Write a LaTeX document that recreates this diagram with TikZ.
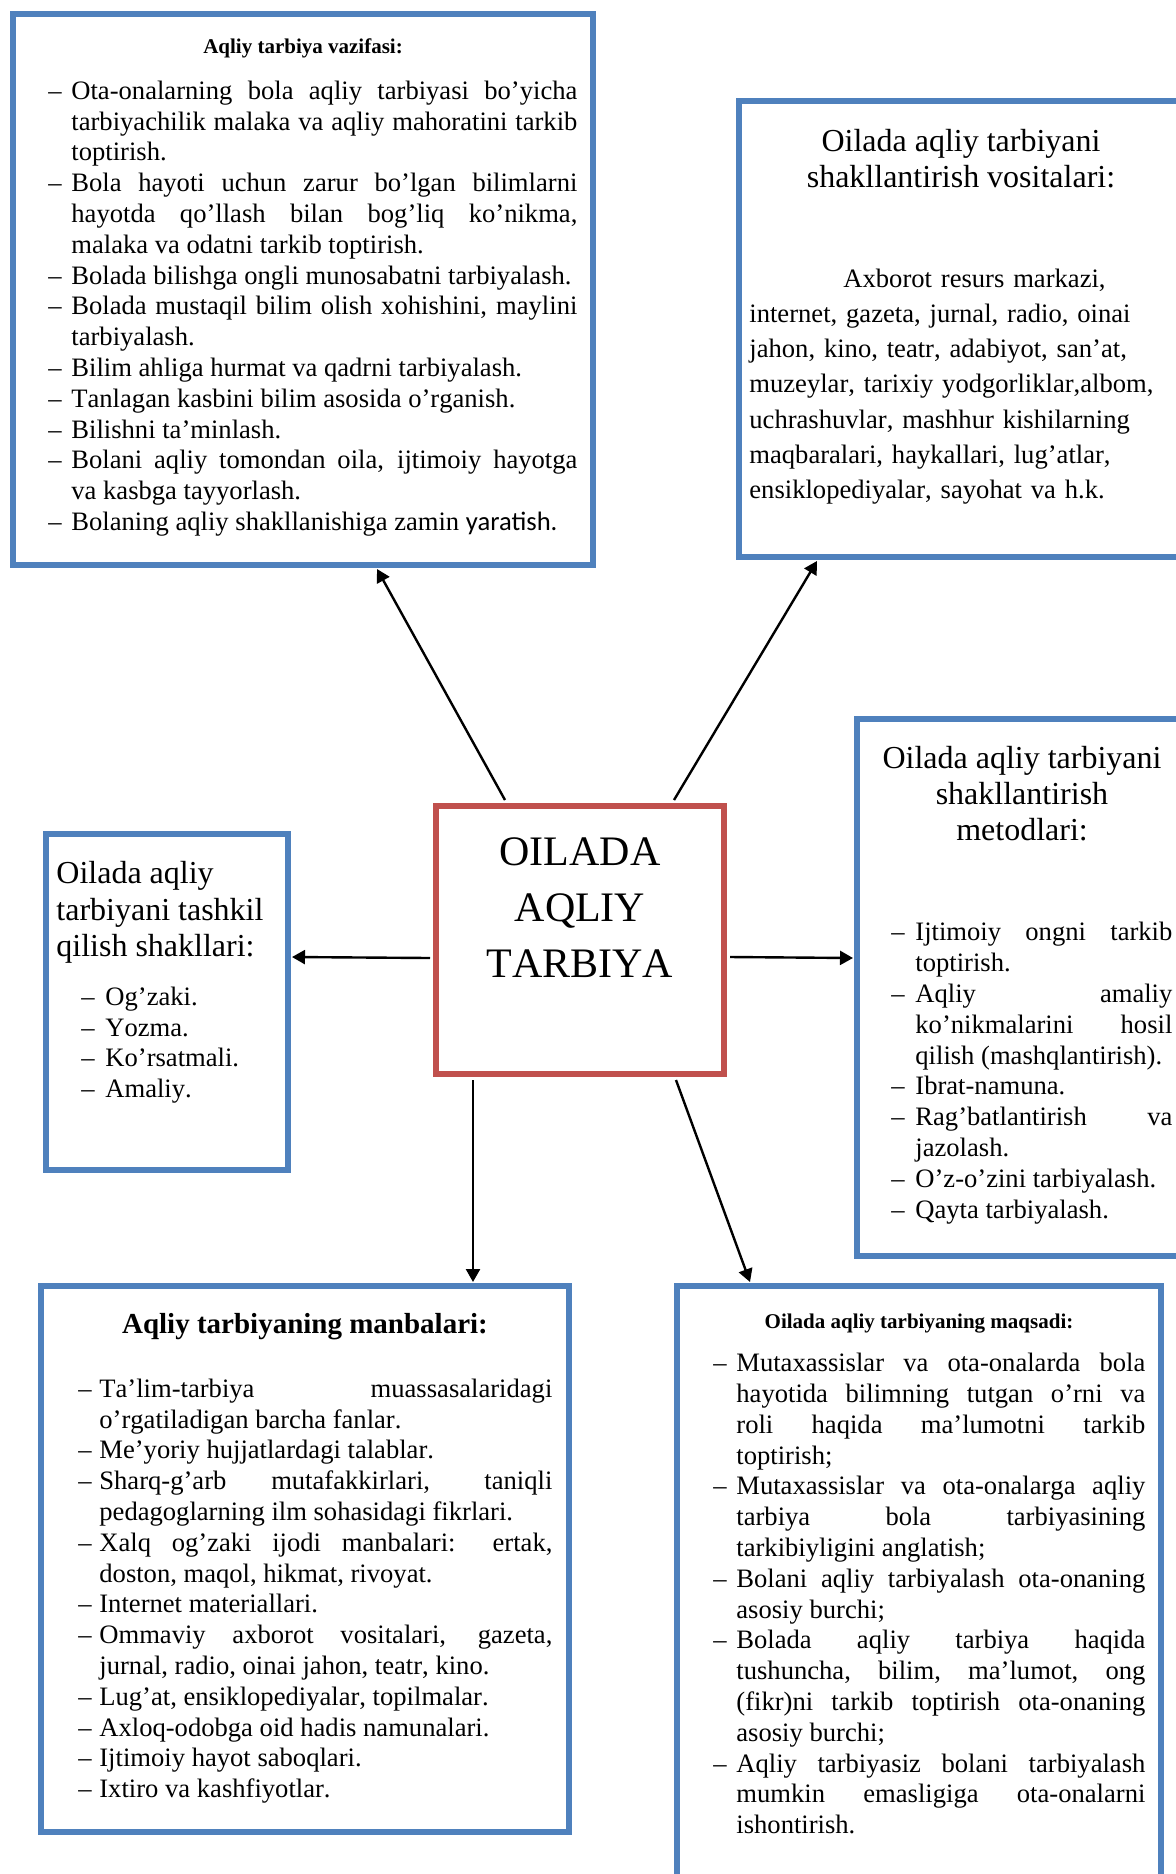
\documentclass[tikz,border=0pt]{standalone}
\usepackage{fontspec}
\setmainfont{Liberation Serif}[Kerning=Off,Ligatures=NoCommon]
\newfontfamily\carlito{Carlito}
\usetikzlibrary{positioning,arrows.meta,calc}

\definecolor{boxblue}{HTML}{4F81BD}
\definecolor{boxred}{HTML}{C0504D}

\newlength{\itmind}
\newcommand{\itm}[1]{\par\hangindent=\itmind\hangafter=1\noindent\makebox[\itmind][l]{–}#1\par}
\newcommand{\bodyfont}{\fontsize{13.3}{15.4}\selectfont\tolerance=10000 \hyphenpenalty=10000 \exhyphenpenalty=10000 \hbadness=10000 \hfuzz=30pt\relax}

\begin{document}
\begin{tikzpicture}[x=0.5pt,y=-0.5pt,
  bluebox/.style={draw=boxblue, line width=3pt, inner sep=0pt, anchor=north west},
  redbox/.style={draw=boxred, line width=3pt, inner sep=0pt, anchor=north west},
  head/.style={inner sep=0pt, anchor=north, align=center},
  list/.style={inner sep=0pt, anchor=north west, align=justify, font=\bodyfont, execute at begin node={\setlength{\itmind}{#1}}},
  arr/.style={-{Triangle[length=6.5pt,width=7pt]}, line width=1.2pt}
]
\useasboundingbox (0,0) rectangle (1176,1874);
\clip (0,0) rectangle (1176,1874);

% boxes
\node[bluebox, minimum width=290pt, minimum height=275.5pt] (vazifa) at (10,11) {};
\node[bluebox, minimum width=222pt, minimum height=228pt] (vosita) at (736,98) {};
\node[bluebox, minimum width=165pt, minimum height=268.5pt] (metod) at (854,716) {};
\node[bluebox, minimum width=121pt, minimum height=168pt] (shakl) at (43,831) {};
\node[redbox, minimum width=144pt, minimum height=134pt] (ctr) at (433,803) {};
\node[bluebox, minimum width=264pt, minimum height=273pt] (manba) at (38,1283) {};
\node[bluebox, minimum width=242pt, minimum height=308.5pt] (maqsad) at (674,1283) {};

% vazifa
\node[head, font=\bfseries\fontsize{10.5}{12}\selectfont, below=13.75pt of vazifa.north] (vazifaT) {Aqliy tarbiya vazifasi:};
\node[list=11.5pt, text width=264.5pt, below right=28.5pt and 19pt of vazifa.north west] (vazifaL) {%
\itm{Ota-onalarning bola aqliy tarbiyasi bo’yicha \linebreak tarbiyachilik malaka va aqliy mahoratini tarkib \linebreak toptirish.}
\itm{Bola hayoti uchun zarur bo’lgan bilimlarni \linebreak hayotda qo’llash bilan bog’liq ko’nikma, \linebreak malaka va odatni tarkib toptirish.}
\itm{Bolada bilishga ongli munosabatni tarbiyalash.}
\itm{Bolada mustaqil bilim olish xohishini, maylini \linebreak tarbiyalash.}
\itm{Bilim ahliga hurmat va qadrni tarbiyalash.}
\itm{Tanlagan kasbini bilim asosida o’rganish.}
\itm{Bilishni ta’minlash.}
\itm{Bolani aqliy tomondan oila, ijtimoiy hayotga \linebreak va kasbga tayyorlash.}
\itm{Bolaning aqliy shakllanishiga zamin {\carlito yaratish.}}};

% vositalari
\node[head, font=\fontsize{16}{18}\selectfont, below=15.2pt of vosita.north] (vositaT) {Oilada aqliy tarbiyani\\shakllantirish vositalari:};
\node[inner sep=0pt, align=left, text width=210pt, font=\fontsize{13.3}{17.6}\selectfont, below right=85.2pt and 6.5pt of vosita.north west] (vositaL) {\noindent\hspace*{47pt}Axborot resurs markazi,\\internet, gazeta, jurnal, radio, oinai\\jahon, kino, teatr, adabiyot, san’at,\\muzeylar, tarixiy yodgorliklar,albom,\\uchrashuvlar, mashhur kishilarning\\maqbaralari, haykallari, lug’atlar,\\ensiklopediyalar, sayohat va h.k.};

% metodlari
\node[head, font=\fontsize{16}{18}\selectfont, below=14.8pt of metod.north] (metodT) {Oilada aqliy tarbiyani\\shakllantirish\\metodlari:};
\node[list=12pt, text width=140.5pt, below right=96.8pt and 18.5pt of metod.north west] (metodL) {%
\itm{Ijtimoiy ongni tarkib \linebreak toptirish.}
\itm{Aqliy amaliy \linebreak ko’nikmalarini hosil \linebreak qilish (mashqlantirish).}
\itm{Ibrat-namuna.}
\itm{Rag’batlantirish va \linebreak jazolash.}
\itm{O’z-o’zini tarbiyalash.}
\itm{Qayta tarbiyalash.}};

% shakllari
\node[inner sep=0pt, align=left, font=\fontsize{16}{18.25}\selectfont, below right=15pt and 6.5pt of shakl.north west] (shaklT) {Oilada aqliy\\tarbiyani tashkil\\qilish shakllari:};
\node[list=12pt, text width=90pt, align=left, below right=71.5pt and 19pt of shakl.north west] (shaklL) {%
\itm{Og’zaki.}
\itm{Yozma.}
\itm{Ko’rsatmali.}
\itm{Amaliy.}};

% markaz
\node[head, font=\fontsize{21}{28}\selectfont, below=17pt of ctr.north] (ctrT) {OILADA\\AQLIY\\TARBIYA};

% manbalari
\node[head, font=\bfseries\fontsize{14.5}{16}\selectfont, below=15.2pt of manba.north] (manbaT) {Aqliy tarbiyaning manbalari:};
\node[list=10.5pt, text width=237pt, below right=41.5pt and 20pt of manba.north west] (manbaL) {%
\itm{Ta’lim-tarbiya muassasalaridagi \linebreak o’rgatiladigan barcha fanlar.}
\itm{Me’yoriy hujjatlardagi talablar.}
\itm{Sharq-g’arb mutafakkirlari, taniqli \linebreak pedagoglarning ilm sohasidagi fikrlari.}
\itm{Xalq og’zaki ijodi manbalari: ertak, \linebreak doston, maqol, hikmat, rivoyat.}
\itm{Internet materiallari.}
\itm{Ommaviy axborot vositalari, gazeta, \linebreak jurnal, radio, oinai jahon, teatr, kino.}
\itm{Lug’at, ensiklopediyalar, topilmalar.}
\itm{Axloq-odobga oid hadis namunalari.}
\itm{Ijtimoiy hayot saboqlari.}
\itm{Ixtiro va kashfiyotlar.}};

% maqsadi
\node[head, font=\bfseries\fontsize{10.5}{12}\selectfont, below=15.2pt of maqsad.north] (maqsadT) {Oilada aqliy tarbiyaning maqsadi:};
\node[list=11.5pt, text width=216pt, below right=28.7pt and 19.5pt of maqsad.north west] (maqsadL) {%
\itm{Mutaxassislar va ota-onalarda bola \linebreak hayotida bilimning tutgan o’rni va \linebreak roli haqida ma’lumotni tarkib \linebreak toptirish;}
\itm{Mutaxassislar va ota-onalarga aqliy \linebreak tarbiya bola tarbiyasining \linebreak tarkibiyligini anglatish;}
\itm{Bolani aqliy tarbiyalash ota-onaning \linebreak asosiy burchi;}
\itm{Bolada aqliy tarbiya haqida \linebreak tushuncha, bilim, ma’lumot, ong \linebreak (fikr)ni tarkib toptirish ota-onaning \linebreak asosiy burchi;}
\itm{Aqliy tarbiyasiz bolani tarbiyalash \linebreak mumkin emasligiga ota-onalarni \linebreak ishontirish.}};

% arrows
\draw[arr] ($(ctr.north west)+(72,-3)$) -- ($(vazifa.south west)+(367,1)$);
\draw[arr] ($(ctr.north west)+(241,-3)$) -- ($(vosita.south west)+(81,1)$);
\draw[arr] ($(ctr.north west)+(-3,155)$) -- ($(shakl.north east)+(1,126)$);
\draw[arr] ($(ctr.north east)+(3,154)$) -- ($(metod.north west)+(-1,242)$);
\draw[arr] ($(ctr.south west)+(40,3)$) -- ($(manba.north west)+(435,-1)$);
\draw[arr] ($(ctr.south west)+(243,3)$) -- ($(maqsad.north west)+(76,-1)$);
\end{tikzpicture}
\end{document}
